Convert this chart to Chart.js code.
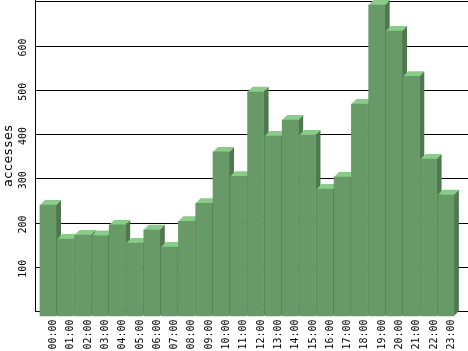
<!DOCTYPE html>
<html><head><meta charset="utf-8">
<script src="https://cdn.jsdelivr.net/npm/chart.js@4.4.1/dist/chart.umd.min.js"></script>
<style>html,body{margin:0;padding:0;background:#fff;}#wrap{width:468px;height:351px;}</style>
</head><body><div id="wrap"><canvas id="c" width="468" height="351"></canvas></div>
<script>
const hours = ["00:00","01:00","02:00","03:00","04:00","05:00","06:00","07:00","08:00","09:00","10:00","11:00","12:00","13:00","14:00","15:00","16:00","17:00","18:00","19:00","20:00","21:00","22:00","23:00"];
const accesses = [252,175,184,183,207,166,196,157,215,256,372,317,508,408,444,410,288,315,480,704,645,543,356,275];
const yTickValues = [0,100,200,300,400,500,600,700];
const yTickLabels = ["","100","200","300","400","500","600",""];

const frontColor = "#689a68";
const topColor = "#88cc88";
const sideColor = "#4e784e";
const depth = 5;

const bar3d = {
  id: 'bar3d',
  beforeDatasetsDraw(chart) {
    const ctx = chart.ctx;
    const meta = chart.getDatasetMeta(0);
    ctx.save();
    meta.data.forEach(el => {
      const p = el.getProps(['x','y','base','width'], true);
      const l = p.x - p.width/2, r = p.x + p.width/2;
      ctx.fillStyle = sideColor;
      ctx.beginPath();
      ctx.moveTo(r - depth, p.y + depth); ctx.lineTo(r, p.y); ctx.lineTo(r, p.base); ctx.lineTo(r - depth, p.base + depth);
      ctx.closePath(); ctx.fill();
      ctx.fillStyle = topColor;
      ctx.beginPath();
      ctx.moveTo(l - depth, p.y + depth); ctx.lineTo(r - depth, p.y + depth); ctx.lineTo(r, p.y); ctx.lineTo(l, p.y);
      ctx.closePath(); ctx.fill();
    });
    ctx.translate(-depth, depth);
  },
  afterDatasetsDraw(chart) { chart.ctx.restore(); }
};

const zeroPad = s => { s.paddingTop = 0; s.paddingBottom = 0; s.paddingLeft = 0; s.paddingRight = 0; };

new Chart(document.getElementById('c'), {
  type: 'bar',
  data: {
    datasets: [{
      data: accesses.map((v, i) => ({x: i, y: v})),
      backgroundColor: frontColor,
      borderWidth: 0,
      barThickness: 16,
      clip: false
    }]
  },
  options: {
    responsive: false,
    devicePixelRatio: 1,
    animation: false,
    layout: {padding: 0},
    plugins: {legend: {display: false}, tooltip: {enabled: false}},
    scales: {
      x: {
        type: 'linear',
        offset: false,
        min: -1.04,
        max: 23.99,
        afterBuildTicks: s => { s.ticks = hours.map((h, i) => ({value: i})); },
        afterFit: s => { s.height = 39.5; zeroPad(s); },
        grid: {display: false, drawTicks: false},
        border: {display: false},
        ticks: {
          autoSkip: false,
          minRotation: 90, maxRotation: 90,
          padding: 8,
          labelOffset: 0.5,
          color: '#000',
          font: {family: 'DejaVu Sans Mono', size: 10},
          callback: (v) => hours[v]
        }
      },
      y: {
        min: 0,
        max: 704,
        afterBuildTicks: s => { s.ticks = yTickValues.map(v => ({value: v})); },
        afterFit: s => { s.width = 35; zeroPad(s); },
        grid: {color: '#000', lineWidth: 1, drawTicks: false},
        border: {display: true, color: '#000', width: 1},
        ticks: {
          minRotation: 90, maxRotation: 90,
          crossAlign: 'center',
          padding: 3,
          labelOffset: 1.5,
          color: '#000',
          font: {family: 'DejaVu Sans Mono', size: 10},
          callback: (v) => yTickLabels[yTickValues.indexOf(v)]
        },
        title: {
          display: true,
          text: 'accesses',
          color: '#000',
          padding: {top: 1, bottom: 0},
          font: {family: 'DejaVu Sans Mono', size: 13}
        }
      }
    }
  },
  plugins: [bar3d]
});
</script>
</body></html>
